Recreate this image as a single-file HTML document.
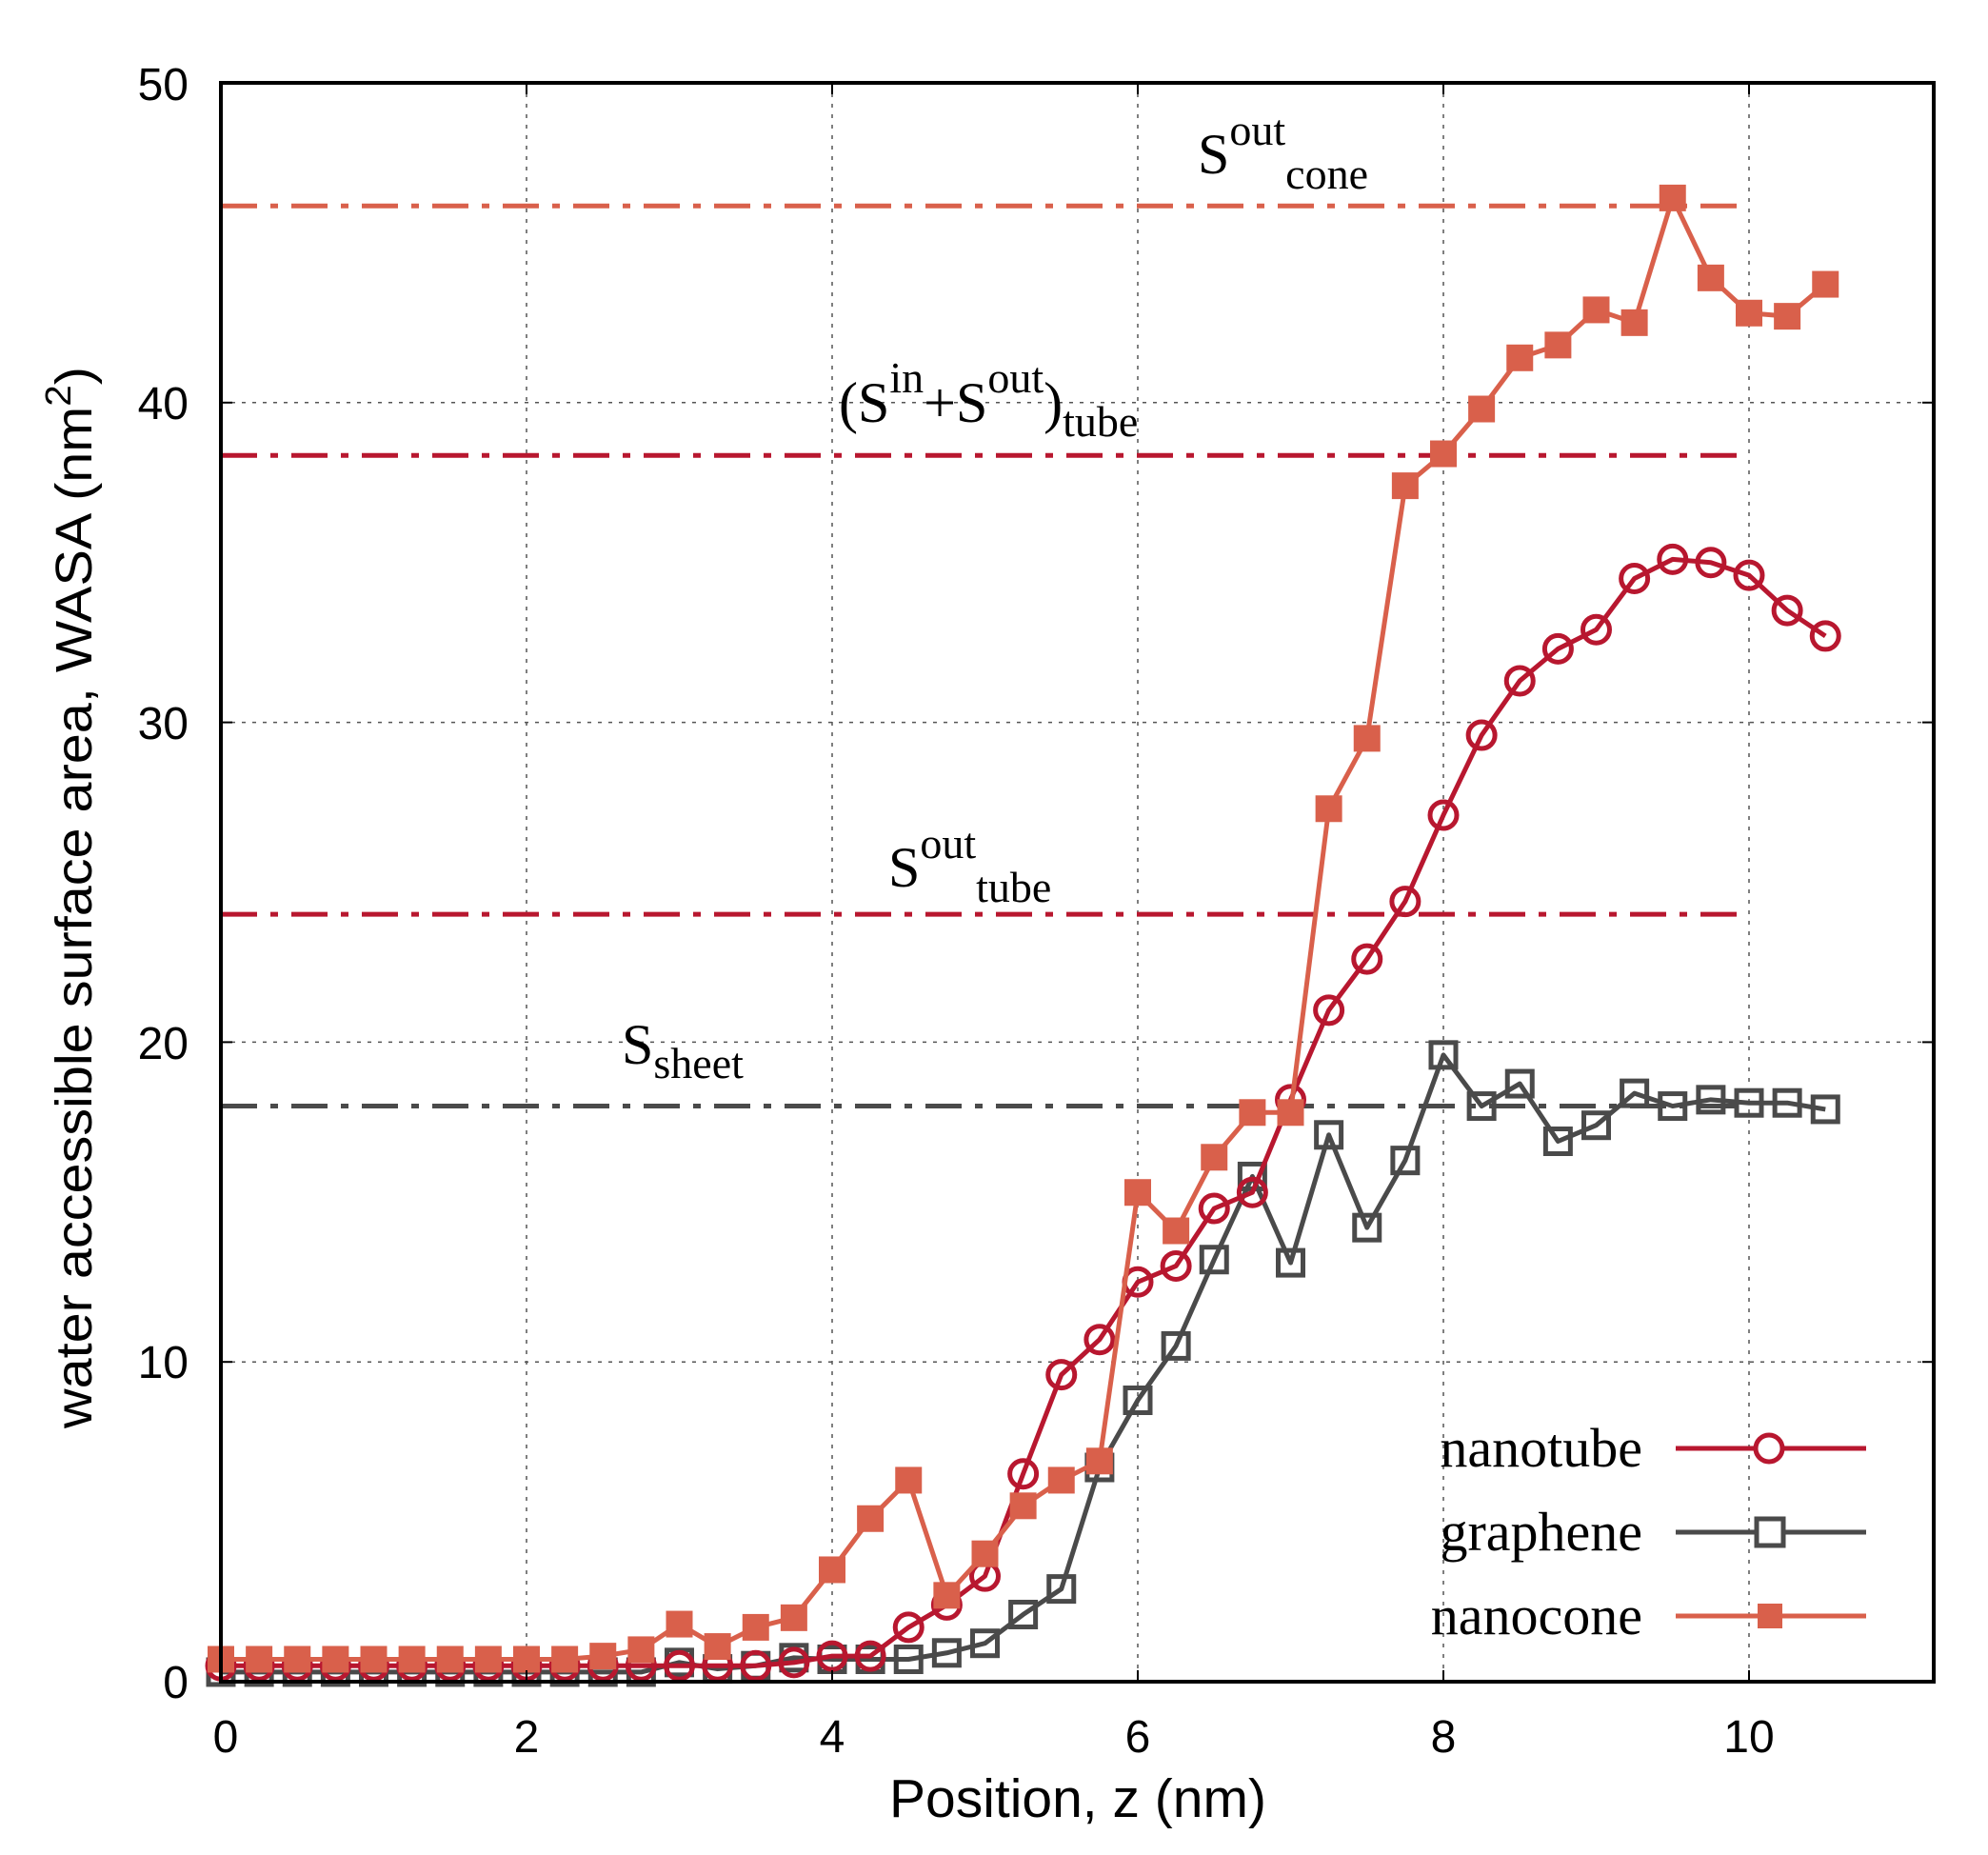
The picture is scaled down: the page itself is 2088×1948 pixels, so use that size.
<!DOCTYPE html>
<html><head><meta charset="utf-8"><style>
html,body{margin:0;padding:0;background:#fff;}
svg{display:block;}
.t{font-family:"Liberation Sans",sans-serif;fill:#000;}
.s{font-family:"Liberation Serif",serif;fill:#000;}
</style></head><body>
<svg id="c" width="2088" height="1948" viewBox="0 0 2088 1948" xmlns="http://www.w3.org/2000/svg">
<rect width="2088" height="1948" fill="#fff"/>
<g id="grid" stroke="#555" stroke-width="1.5" stroke-dasharray="4,7"></g>
<g id="hl"></g>
<g id="series"></g>
<rect x="232" y="87" width="1799" height="1679" fill="none" stroke="#000" stroke-width="4"/>
<g id="ticks" stroke="#000" stroke-width="2"></g>
<g class="t" font-size="48" text-anchor="end">
<text x="198" y="1783">0</text><text x="198" y="1447">10</text><text x="198" y="1112">20</text>
<text x="198" y="776">30</text><text x="198" y="440">40</text><text x="198" y="105">50</text>
</g>
<g class="t" font-size="48" text-anchor="middle">
<text x="237" y="1840">0</text><text x="553" y="1840">2</text><text x="874" y="1840">4</text>
<text x="1195" y="1840">6</text><text x="1516" y="1840">8</text><text x="1837" y="1840">10</text>
</g>
<text class="t" x="1132" y="1908" font-size="57" text-anchor="middle">Position, z (nm)</text>
<text class="t" font-size="54" transform="translate(96,1500) rotate(-90)" textLength="1115" lengthAdjust="spacingAndGlyphs">water accessible surface area, WASA (nm<tspan font-size="38" dy="-22">2</tspan><tspan dy="22">)</tspan></text>
<g class="s" font-size="60">
<text x="1258" y="182">S<tspan font-size="46" dy="-30">out</tspan><tspan font-size="46" dy="46">cone</tspan></text>
<text x="881" y="443">(S<tspan font-size="46" dy="-31">in</tspan><tspan dy="31">+S</tspan><tspan font-size="46" dy="-31">out</tspan><tspan dy="31">)</tspan><tspan font-size="46" dy="15">tube</tspan></text>
<text x="933" y="931">S<tspan font-size="46" dy="-30">out</tspan><tspan font-size="46" dy="46">tube</tspan></text>
<text x="653" y="1117">S<tspan font-size="46" dy="15">sheet</tspan></text>
</g>
<g class="s" font-size="58" text-anchor="end">
<text x="1725" y="1540">nanotube</text>
<text x="1725" y="1628">graphene</text>
<text x="1725" y="1716">nanocone</text>
</g>
<g id="leg"></g>
</svg>
<script>
const NS="http://www.w3.org/2000/svg";
const X=x=>232+160.5*x, Y=y=>1766-33.58*y;
function el(p,t,a){const e=document.createElementNS(NS,t);for(const k in a)e.setAttribute(k,a[k]);document.getElementById(p).appendChild(e);return e;}
[2,4,6,8,10].forEach(v=>el("grid","line",{x1:X(v),x2:X(v),y1:87,y2:1766}));
[10,20,30,40].forEach(v=>el("grid","line",{x1:232,x2:2031,y1:Y(v),y2:Y(v)}));
[0,2,4,6,8,10].forEach(v=>{el("ticks","line",{x1:X(v),x2:X(v),y1:1766,y2:1754});el("ticks","line",{x1:X(v),x2:X(v),y1:87,y2:99});});
[0,10,20,30,40,50].forEach(v=>{el("ticks","line",{x1:232,x2:244,y1:Y(v),y2:Y(v)});el("ticks","line",{x1:2031,x2:2019,y1:Y(v),y2:Y(v)});});
const RED="#b8172f",GR="#4a4a4a",OR="#d9604b";
[[46.15,OR],[38.35,RED],[24.0,RED],[18.0,GR]].forEach(([v,c])=>el("hl","line",{x1:X(0),x2:X(10),y1:Y(v),y2:Y(v),stroke:c,"stroke-width":5,"stroke-dasharray":"38,14,8,14"}));
const cone=[0.7,0.7,0.7,0.7,0.7,0.7,0.7,0.7,0.7,0.7,0.8,1.0,1.8,1.1,1.7,2.0,3.5,5.1,6.3,2.7,4.0,5.5,6.3,6.9,15.3,14.1,16.4,17.8,17.8,27.3,29.5,37.4,38.4,39.8,41.4,41.8,42.9,42.5,46.4,43.9,42.8,42.7,43.7];
const tube=[0.5,0.5,0.5,0.5,0.5,0.5,0.5,0.5,0.5,0.5,0.5,0.5,0.5,0.5,0.5,0.6,0.8,0.8,1.7,2.4,3.3,6.5,9.6,10.7,12.5,13.0,14.8,15.3,18.2,21.0,22.6,24.4,27.1,29.6,31.3,32.3,32.9,34.5,35.1,35.0,34.6,33.5,32.7];
const gra=[0.3,0.3,0.3,0.3,0.3,0.3,0.3,0.3,0.3,0.3,0.3,0.3,0.6,0.4,0.5,0.75,0.7,0.7,0.7,0.9,1.2,2.1,2.9,6.7,8.8,10.5,13.2,15.8,13.1,17.1,14.2,16.3,19.6,18.0,18.7,16.9,17.4,18.4,18.0,18.2,18.1,18.1,17.9];
function line(d,c){el("series","polyline",{points:d.map((v,i)=>X(i*0.25)+","+Y(v)).join(" "),fill:"none",stroke:c,"stroke-width":5,"stroke-linejoin":"round"});}
line(gra,GR);
gra.forEach((v,i)=>el("series","rect",{x:X(i*0.25)-13,y:Y(v)-13,width:26,height:26,fill:"none",stroke:GR,"stroke-width":5}));
line(tube,RED);
tube.forEach((v,i)=>el("series","circle",{cx:X(i*0.25),cy:Y(v),r:14,fill:"none",stroke:RED,"stroke-width":5}));
line(cone,OR);
cone.forEach((v,i)=>el("series","rect",{x:X(i*0.25)-14,y:Y(v)-14,width:28,height:28,fill:OR}));
[[1521,RED,"c"],[1609,GR,"s"],[1697,OR,"f"]].forEach(([y,c,m])=>{
 el("leg","line",{x1:1760,x2:1960,y1:y,y2:y,stroke:c,"stroke-width":5});
 if(m=="c")el("leg","circle",{cx:1858,cy:y,r:14,fill:"#fff",stroke:c,"stroke-width":5});
 if(m=="s")el("leg","rect",{x:1845,y:y-14,width:28,height:28,fill:"#fff",stroke:c,"stroke-width":5});
 if(m=="f")el("leg","rect",{x:1846,y:y-13,width:26,height:26,fill:c});
});
</script>
</body></html>
